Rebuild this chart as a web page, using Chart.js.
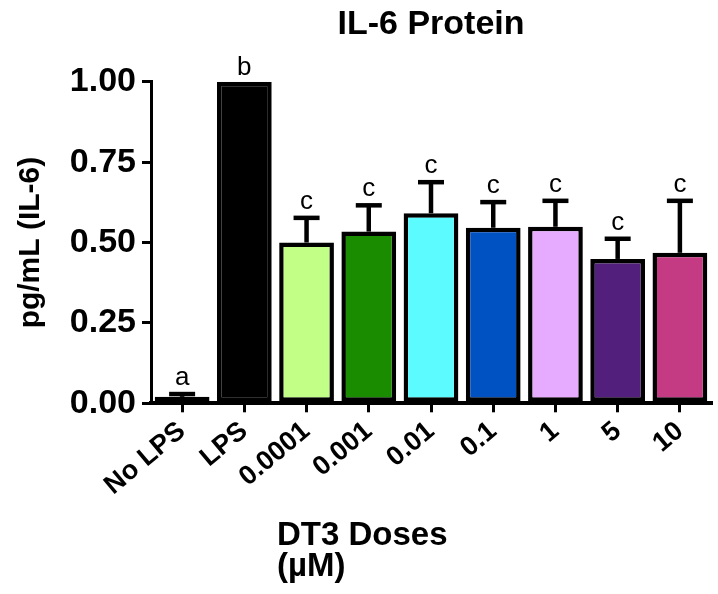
<!DOCTYPE html>
<html>
<head>
<meta charset="utf-8">
<script src="https://cdn.jsdelivr.net/npm/chart.js@4/dist/chart.umd.min.js"></script>
<style>
html,body{margin:0;padding:0;background:#fff;}
#wrap{width:718px;height:594px;}
</style>
</head>
<body>
<div id="wrap"><canvas id="c" width="718" height="594"></canvas></div>
<script>
// ---- data ----
const categories = ['No LPS', 'LPS', '0.0001', '0.001', '0.01', '0.1', '1', '5', '10'];
const means  = [0.020, 1.000, 0.500, 0.534, 0.591, 0.546, 0.549, 0.449, 0.468];
const errors = [0.015, 0.000, 0.083, 0.088, 0.103, 0.086, 0.087, 0.069, 0.168];
const letters = ['a', 'b', 'c', 'c', 'c', 'c', 'c', 'c', 'c'];
const barColors = ['#FFFFFF', '#000000', '#C2FF86', '#1A8C00', '#5CFBFF', '#0051C2', '#E6AAFF', '#531F7D', '#C43A83'];
const yTicks = [0, 0.25, 0.5, 0.75, 1.0];
const chartTitle = 'IL-6 Protein';
const yTitle = 'pg/mL (IL-6)';
const xTitle = ['DT3 Doses', '(\u00B5M)'];

const FONT = "'Liberation Sans', Arial, Helvetica, sans-serif";

const annotations = {
  id: 'annotations',
  afterDatasetsDraw(chart) {
    const ctx = chart.ctx;
    const y = chart.scales.y;
    const meta = chart.getDatasetMeta(0);
    ctx.save();
    ctx.strokeStyle = '#000';
    ctx.fillStyle = '#000';
    ctx.lineWidth = 4.5;
    meta.data.forEach((bar, i) => {
      const cx = bar.x;
      const top = y.getPixelForValue(means[i]);
      const et = y.getPixelForValue(means[i] + errors[i]);
      if (errors[i] > 0) {
        ctx.beginPath(); ctx.moveTo(cx, top); ctx.lineTo(cx, et + 2); ctx.stroke();
        ctx.beginPath(); ctx.moveTo(cx - 13, et + 2); ctx.lineTo(cx + 13, et + 2); ctx.stroke();
      }
      ctx.font = '26px ' + FONT;
      ctx.textAlign = 'center';
      ctx.textBaseline = 'alphabetic';
      ctx.fillText(letters[i], cx, et - 7);
    });
    // x-axis title (left aligned, two lines)
    const area = chart.chartArea;
    ctx.font = 'bold 33px ' + FONT;
    ctx.textAlign = 'left';
    xTitle.forEach((line, k) => ctx.fillText(line, area.left + 126, 545 + 31 * k));
    ctx.restore();
  }
};

new Chart(document.getElementById('c'), {
  type: 'bar',
  data: {
    labels: categories,
    datasets: [{
      data: means,
      backgroundColor: barColors,
      borderColor: '#000',
      borderWidth: 4.5,
      borderSkipped: false,
      barPercentage: 0.88,
      categoryPercentage: 1.0
    }]
  },
  options: {
    responsive: false,
    animation: false,
    devicePixelRatio: 1,
    layout: { padding: { left: 0, right: 7, top: 0, bottom: 0 } },
    plugins: {
      legend: { display: false },
      tooltip: { enabled: false },
      title: {
        display: true,
        text: chartTitle,
        fullSize: false,
        color: '#000',
        font: { family: FONT, size: 34, weight: 'bold' },
        padding: { top: 4, bottom: 37 }
      }
    },
    scales: {
      x: {
        grid: { display: true, drawOnChartArea: false, drawTicks: true, tickLength: 9, color: '#000', lineWidth: 3, offset: false },
        border: { display: true, color: '#000', width: 4 },
        ticks: { color: '#000', font: { family: FONT, size: 27, weight: 'bold' }, minRotation: 40, maxRotation: 40, autoSkip: false, padding: 3 },
        afterFit(s) { s.height = 594 - 403.3; }
      },
      y: {
        min: 0, max: 1,
        afterBuildTicks(s) { s.ticks = yTicks.map(v => ({ value: v })); },
        grid: { display: true, drawOnChartArea: false, drawTicks: true, tickLength: 9, color: '#000', lineWidth: 3 },
        border: { display: true, color: '#000', width: 3 },
        ticks: { color: '#000', font: { family: FONT, size: 34, weight: 'bold' }, padding: 6, callback: v => Number(v).toFixed(2) },
        title: { display: true, text: yTitle, color: '#000', font: { family: FONT, size: 30, weight: 'bold' }, padding: { top: 13, bottom: 0 } },
        afterFit(s) { s.width = 151; }
      }
    }
  },
  plugins: [annotations]
});
</script>
</body>
</html>
